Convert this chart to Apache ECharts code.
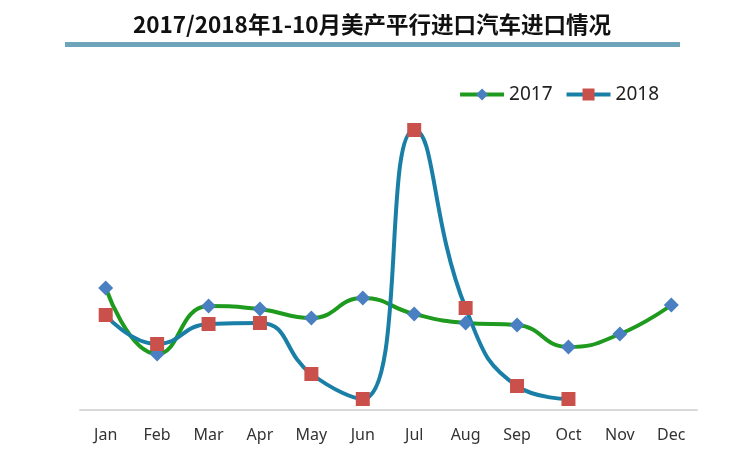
<!DOCTYPE html>
<html><head><meta charset="utf-8">
<script src="https://cdn.jsdelivr.net/npm/echarts@6/dist/echarts.min.js"></script>
<style>html,body{margin:0;padding:0;background:#fff}#c{width:744px;height:466px}</style>
</head><body><div id="c"></div>
<script>
var categories = ['Jan','Feb','Mar','Apr','May','Jun','Jul','Aug','Sep','Oct','Nov','Dec'];
var seriesNames = ['2017','2018'];
var values2017 = [122, 56, 104, 101, 92, 112, 96, 87, 85, 63, 76, 105];
var values2018 = [95, 66, 86, 87, 36, 11, 280, 102, 24, 11];
var titleText = '2017/2018年1-10月美产平行进口汽车进口情况';

var chart = echarts.init(document.getElementById('c'));
chart.setOption({
  animation: false,
  backgroundColor: '#fff',
  title: {
    text: titleText, left: 'center', top: 8,
    textStyle: {fontSize: 22.5, fontWeight: 'bold', color: '#111', fontFamily: 'Noto Sans CJK SC'}
  },
  graphic: [{type: 'rect', shape: {x: 65, y: 42, width: 615, height: 5}, style: {fill: '#6fa5bb'}}],
  legend: {
    data: seriesNames, right: 80, top: 80, itemWidth: 44, itemHeight: 15, itemGap: 12,
    lineStyle: {width: 4},
    textStyle: {fontSize: 19, color: '#222', fontFamily: 'Noto Sans'}
  },
  grid: {left: 80, right: 47, top: 110, bottom: 56},
  xAxis: {
    type: 'category', data: categories, boundaryGap: true,
    axisLine: {lineStyle: {color: '#d9d9d9', width: 2}},
    axisTick: {show: false},
    axisLabel: {fontSize: 16, color: '#333', margin: 17, fontFamily: 'Noto Sans'}
  },
  yAxis: {type: 'value', min: 0, max: 300, show: false, splitLine: {show: false}},
  series: [
    {name: '2017', type: 'line', data: values2017, smooth: true,
     symbol: 'diamond', symbolSize: 15,
     lineStyle: {color: '#1e9a1e', width: 4},
     itemStyle: {color: '#4a7fc1'}},
    {name: '2018', type: 'line', data: values2018, smooth: true,
     symbol: 'rect', symbolSize: 14,
     lineStyle: {color: '#1a7fa6', width: 4},
     itemStyle: {color: '#c9504b'}}
  ]
});
</script></body></html>
